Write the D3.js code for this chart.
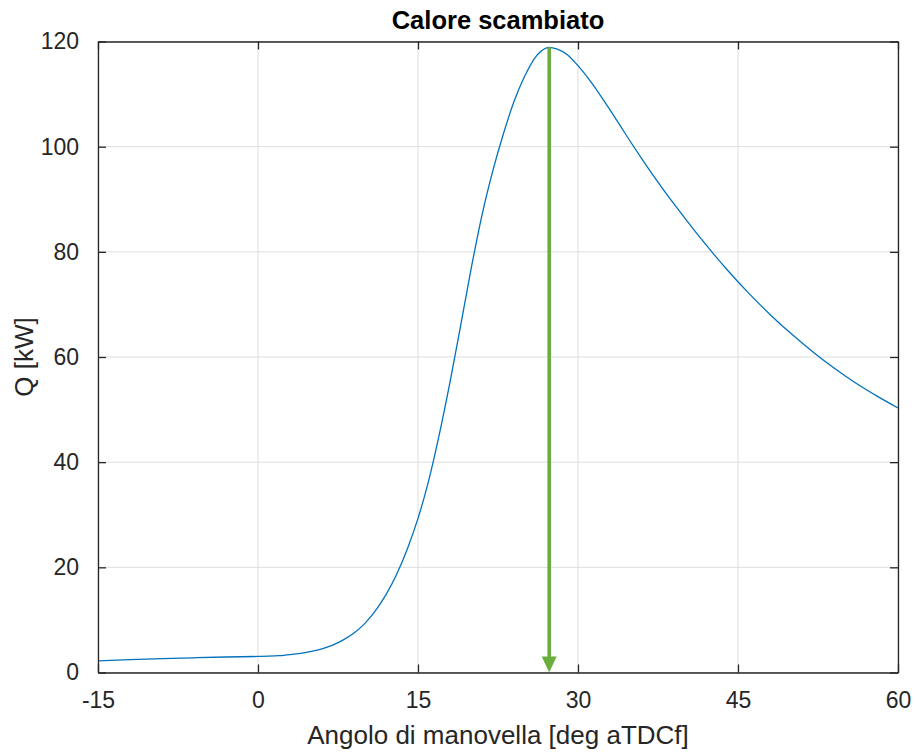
<!DOCTYPE html>
<html>
<head>
<meta charset="utf-8">
<script src="https://cdn.jsdelivr.net/npm/d3@7"></script>
<style>
  body { margin: 0; background: #fff; }
  text { font-family: "Liberation Sans", Arial, Helvetica, sans-serif; fill: #262626; }
</style>
</head>
<body>
<svg id="chart" width="915" height="753"></svg>
<script>
// crank angle [deg aTDCf] and exchanged heat Q [kW]
const angles = [-15, -12, -9, -6, -3, 0, 1, 2, 3, 4, 5, 6, 7, 8, 9, 10, 11, 12, 13, 14, 15, 16, 17, 18, 19, 20,
  21, 22, 23, 24, 25, 26, 27, 27.3, 28, 29, 30, 31, 32, 33, 34, 35, 36, 37, 38, 39, 40, 41, 42, 43, 44,
  46, 48, 50, 52, 54, 56, 58, 60];
const heat = [2.2, 2.45, 2.65, 2.8, 2.95, 3.05, 3.1, 3.2, 3.4, 3.65, 4.0, 4.5, 5.2, 6.2, 7.5, 9.3, 11.7, 14.8, 18.7, 23.5, 29.3, 36.5, 45.3, 55.2, 66.0, 77.0,
  87.0, 95.3, 102.4, 108.6, 113.4, 117.0, 118.75, 118.9, 118.6, 117.5, 115.4, 112.9, 110.05, 107.0, 103.85, 100.7, 97.65, 94.7, 91.85, 89.1, 86.45, 83.85, 81.35, 78.9, 76.55,
  72.15, 68.1, 64.4, 61.0, 57.9, 55.1, 52.6, 50.3];
const xTicks = [-15, 0, 15, 30, 45, 60];
const yTicks = [0, 20, 40, 60, 80, 100, 120];
const peakAngle = 27.3;   // green arrow position
const peakHeat = 118.9;

const margin = { top: 41.5, right: 17, bottom: 80.5, left: 98 };
const width = 915 - margin.left - margin.right;
const height = 753 - margin.top - margin.bottom;

const svg = d3.select("#chart");
const g = svg.append("g").attr("transform", `translate(${margin.left},${margin.top})`);

const x = d3.scaleLinear().domain([-15, 60]).range([0, width]);
const y = d3.scaleLinear().domain([0, 120]).range([height, 0]);

// grid
g.append("g")
  .selectAll("line")
  .data(xTicks)
  .enter().append("line")
  .attr("x1", d => x(d)).attr("x2", d => x(d))
  .attr("y1", 0).attr("y2", height)
  .attr("stroke", "#dedede").attr("stroke-width", 1);
g.append("g")
  .selectAll("line")
  .data(yTicks)
  .enter().append("line")
  .attr("x1", 0).attr("x2", width)
  .attr("y1", d => y(d)).attr("y2", d => y(d))
  .attr("stroke", "#dedede").attr("stroke-width", 1);

// curve
const line = d3.line()
  .x((d, i) => x(angles[i]))
  .y(d => y(d))
  .curve(d3.curveMonotoneX);

g.append("path")
  .datum(heat)
  .attr("fill", "none")
  .attr("stroke", "#0072BD")
  .attr("stroke-width", 1.3)
  .attr("d", line);

// axes (box with inward ticks)
const tickLen = 8;
const fontSize = 23;
const fmt = d => String(d);

const bottomAxis = d3.axisBottom(x).tickValues(xTicks).tickFormat(fmt).tickSizeInner(-tickLen).tickSizeOuter(0).tickPadding(tickLen + 11);
const topAxis = d3.axisTop(x).tickValues(xTicks).tickSizeInner(-tickLen).tickSizeOuter(0).tickFormat("");
const leftAxis = d3.axisLeft(y).tickValues(yTicks).tickFormat(fmt).tickSizeInner(-tickLen).tickSizeOuter(0).tickPadding(tickLen + 11);
const rightAxis = d3.axisRight(y).tickValues(yTicks).tickSizeInner(-tickLen).tickSizeOuter(0).tickFormat("");

const axes = [
  g.append("g").attr("transform", `translate(0,${height})`).call(bottomAxis),
  g.append("g").call(topAxis),
  g.append("g").call(leftAxis),
  g.append("g").attr("transform", `translate(${width},0)`).call(rightAxis)
];
axes.forEach(a => {
  a.select(".domain").attr("stroke", "#262626").attr("stroke-width", 1.3);
  a.selectAll(".tick line").attr("stroke", "#262626").attr("stroke-width", 1.3);
  a.selectAll(".tick text")
    .attr("fill", "#262626")
    .style("font-size", fontSize + "px")
    .style("font-family", "'Liberation Sans', Arial, sans-serif");
});

// green arrow marking the peak
const green = "#6BAE3E";
const ax = x(peakAngle);
g.append("line")
  .attr("x1", ax).attr("x2", ax)
  .attr("y1", y(peakHeat)).attr("y2", y(0) - 14)
  .attr("stroke", green).attr("stroke-width", 3.6);
g.append("path")
  .attr("d", `M${ax - 7.5},${y(0) - 16} L${ax + 7.5},${y(0) - 16} L${ax},${y(0)} Z`)
  .attr("fill", green);

// title and labels
svg.append("text")
  .attr("x", margin.left + width / 2)
  .attr("y", 29)
  .attr("text-anchor", "middle")
  .style("font-size", "25.5px")
  .style("font-weight", "bold")
  .style("fill", "#000")
  .text("Calore scambiato");

svg.append("text")
  .attr("x", margin.left + width / 2)
  .attr("y", 744)
  .attr("text-anchor", "middle")
  .style("font-size", "26px")
  .text("Angolo di manovella [deg aTDCf]");

svg.append("text")
  .attr("transform", `translate(33,${margin.top + height / 2}) rotate(-90)`)
  .attr("text-anchor", "middle")
  .style("font-size", "26px")
  .text("Q [kW]");
</script>
</body>
</html>
